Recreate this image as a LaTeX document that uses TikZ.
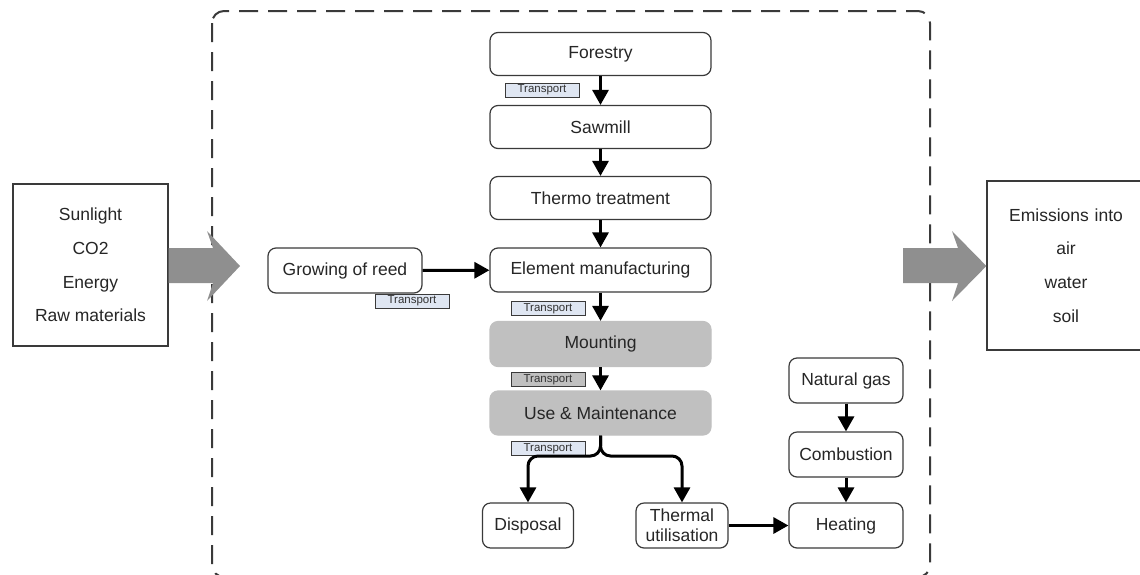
\documentclass[tikz,border=0pt]{standalone}
\usepackage{fontspec}
\setmainfont{Liberation Sans}
\usepackage{xcolor}
\usepackage{tikz}
\usetikzlibrary{shapes,arrows,positioning,calc,arrows.meta,shapes.misc}
\definecolor{tagBlue}{HTML}{DFE6F2}
\definecolor{stageGray}{HTML}{C0C0C0}
\definecolor{flowGray}{HTML}{8F8F8F}
\definecolor{lineDark}{HTML}{3A3A3A}
\tikzset{
  processBox/.style={
    rectangle,
    rounded corners=8pt,
    draw=lineDark,
    line width=1.2pt,
    fill=white,
    text=black!85,
    minimum width=221pt,
    minimum height=43pt,
    align=center,
    font=\fontsize{17.5}{20}\selectfont
  },
  stageBox/.style={
    processBox,
    draw=stageGray,
    fill=stageGray,
    minimum height=45pt
  },
  transportTag/.style={
    rectangle,
    draw=lineDark,
    line width=1pt,
    fill=tagBlue,
    minimum width=74pt,
    minimum height=14pt,
    inner sep=0pt,
    text=black!80,
    font=\fontsize{11.5}{12}\selectfont
  },
  plainBox/.style={
    rectangle,
    draw=lineDark,
    line width=1.2pt,
    fill=white,
    text=black!85,
    align=center,
    font=\fontsize{17.5}{33.7}\selectfont
  },
  flowArrow/.style={
    -{Triangle[length=15pt,width=16pt]},
    line width=3pt
  },
  bigArrow/.style={
    fill=flowGray,
    draw=none
  }
}

\begin{document}
\begin{tikzpicture}[x=1pt,y=-1pt]
        \useasboundingbox (0,0) rectangle (1140,574);

        % system boundary
        \draw[lineDark, line width=2pt, dash pattern=on 19pt off 10pt, rounded corners=12pt]
            (212,11) rectangle (930,577);

        % main chain
        \node[processBox] (forestry) at (600.5,54) {Forestry};
        \node[processBox] (sawmill) at (600.5,127) {Sawmill};
        \node[processBox] (thermo) at (600.5,198) {Thermo treatment};
        \node[processBox, minimum height=44pt] (element) at (600.5,270) {Element manufacturing};
        \node[stageBox] (mounting) at (600.5,344) {Mounting};
        \node[stageBox, minimum height=44pt] (use) at (600.5,413) {Use \& Maintenance};
        \node[processBox, minimum width=154pt, minimum height=45pt] (reed) at (345,270.5) {Growing of reed};

        % end of life
        \node[processBox, minimum width=91pt, minimum height=45pt] (disposal) at (528,525.5) {Disposal};
        \node[processBox, minimum width=92pt, minimum height=45pt, inner sep=1pt] (thermal) at (682,525.5) {Thermal\\utilisation};
        \node[processBox, minimum width=114pt, minimum height=45pt] (natgas) at (846,380.5) {Natural gas};
        \node[processBox, minimum width=114pt, minimum height=45pt] (combustion) at (846,454.5) {Combustion};
        \node[processBox, minimum width=114pt, minimum height=45pt] (heating) at (846,525.5) {Heating};

        % transport tags
        \node[transportTag] (tagForest) at (542,90) {Transport};
        \node[transportTag] (tagReed) at (412,301) {Transport};
        \node[transportTag] (tagElement) at (548,308.5) {Transport};
        \node[transportTag, fill=stageGray] (tagMount) at (548,379.5) {Transport};
        \node[transportTag] (tagUse) at (548,448.5) {Transport};

        % inputs and outputs
        \node[plainBox, minimum width=155pt, minimum height=162pt] (inputs) at (90.5,265)
            {Sunlight\\CO2\\Energy\\Raw materials};
        \node[plainBox, minimum width=158pt, minimum height=169pt, text width=150pt] (emissions) at (1066,265.5)
            {Emissions into\\air\\water\\soil};

        \fill[bigArrow] (inputs.east |- 0,248) -- (213,248) -- (207,231) -- (240,266)
            -- (207,301) -- (213,283) -- (inputs.east |- 0,283) -- cycle;
        \fill[bigArrow] (903,248) -- (958,248) -- (952,231) -- (emissions.west |- 0,266)
            -- (952,301) -- (958,283) -- (903,283) -- cycle;

        \coordinate (splitPt) at (600.5,456);

        \draw[flowArrow] (forestry) -- (sawmill);
        \draw[flowArrow] (sawmill) -- (thermo);
        \draw[flowArrow] (thermo) -- (element);
        \draw[flowArrow] (element) -- (mounting);
        \draw[flowArrow] (mounting) -- (use);
        \draw[flowArrow] (reed) -- (element);
        \draw[flowArrow, rounded corners=10pt] (use.south) -- (splitPt) -| (disposal.north);
        \draw[flowArrow, rounded corners=10pt] (use.south) -- (splitPt) -| (thermal.north);
        \draw[flowArrow] (thermal) -- (heating);
        \draw[flowArrow] (natgas) -- (combustion);
        \draw[flowArrow] (combustion) -- (heating);
    \end{tikzpicture}
\end{document}
